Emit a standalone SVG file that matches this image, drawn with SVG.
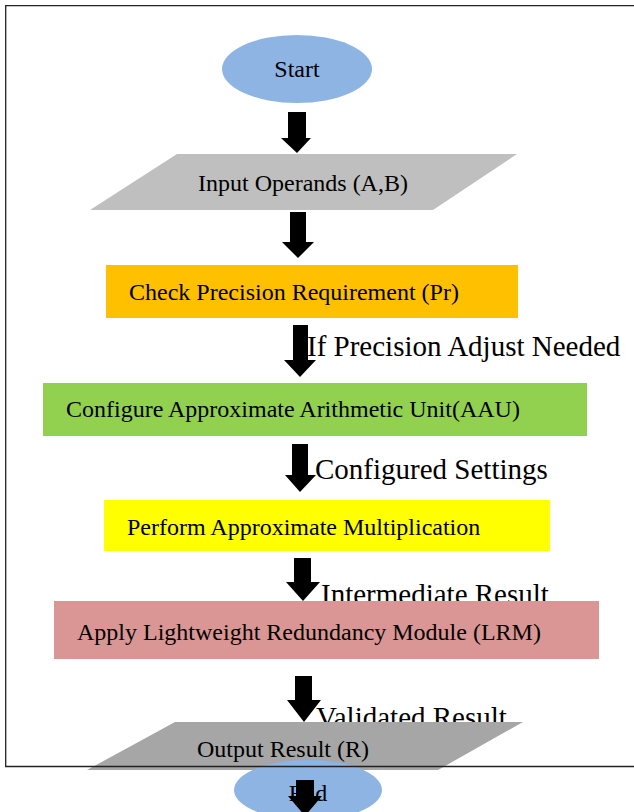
<svg xmlns="http://www.w3.org/2000/svg" width="634" height="812" viewBox="0 0 634 812">
<style>
.t{font-family:"Liberation Serif","Times New Roman",serif;font-size:24px;fill:#000}
.l{font-family:"Liberation Serif","Times New Roman",serif;font-size:29px;fill:#000}
.arr{fill:#000}
.frame{fill:none;stroke:#222;stroke-width:1.3}
</style>
<rect width="634" height="812" fill="#fff"/>
<g id="start"><ellipse cx="297" cy="69" rx="75" ry="34" fill="#8EB4E3"/><text class="t" x="297" y="77" text-anchor="middle">Start</text></g>
<g id="input"><polygon points="177,154 517,154 433,210 90,210" fill="#BFBFBF"/><text class="t" x="198" y="191">Input Operands (A,B)</text></g>
<g id="check"><rect x="106" y="265" width="412" height="53" fill="#FFC000"/><text class="t" x="129" y="300">Check Precision Requirement (Pr)</text></g>
<g id="configure"><rect x="43" y="383" width="544" height="53" fill="#92D050"/><text class="t" x="66" y="417">Configure Approximate Arithmetic Unit(AAU)</text></g>
<g id="perform"><rect x="104" y="500" width="446" height="51" fill="#FFFF00"/><text class="t" x="127" y="535">Perform Approximate Multiplication</text></g>
<g id="connectors">
<polygon class="arr" points="288,112 306,112 306,138 311,138 297,153 281,138 288,138"/>
<polygon class="arr" points="290,212 306,212 306,242 314,242 298,258 282,242 290,242"/>
<polygon class="arr" points="293,325 308,325 308,360 316,360 300,377 284,360 293,360"/>
<polygon class="arr" points="292,444 308,444 308,475 316,475 300,492 285,475 292,475"/>
<polygon class="arr" points="294,558 311,558 311,582 320,582 303,601 286,582 294,582"/>
<polygon class="arr" points="295,676 312,676 312,700 321,700 304,722 287,700 295,700"/>
<text class="l" x="307" y="356">If Precision Adjust Needed</text>
<text class="l" x="315" y="479">Configured Settings</text>
<text class="l" x="321" y="604">Intermediate Result</text>
<text class="l" x="316" y="727">Validated Result</text>
</g>
<g id="lrm"><rect x="54" y="601" width="545" height="58" fill="#DA9694"/><text class="t" x="77" y="640">Apply Lightweight Redundancy Module (LRM)</text></g>
<g id="output"><polygon points="175,722 523,722 438,770 87,770" fill="#A6A6A6"/><text class="t" x="197" y="757">Output Result (R)</text></g>
<g id="end"><ellipse cx="308" cy="790" rx="74" ry="30" fill="#8EB4E3"/><text class="t" x="308" y="801" text-anchor="middle">End</text></g>
<path class="frame" d="M640,5.7 H5.7 V766.5 H640"/>
<polygon class="arr" points="296,780 314,780 314,796 322,796 305,816 288,796 296,796"/>
</svg>
